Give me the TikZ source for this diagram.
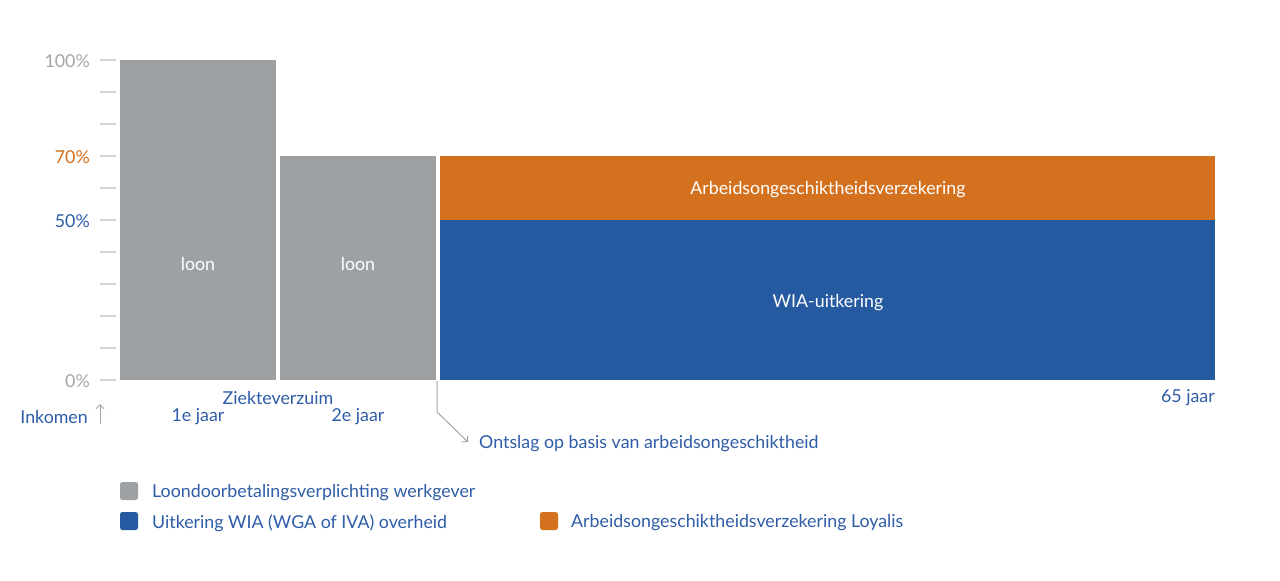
\documentclass[tikz,border=0pt]{standalone}
\usepackage{fontspec}
\setmainfont{Lato}
\usetikzlibrary{arrows.meta}
\definecolor{bargray}{HTML}{9EA1A3}
\definecolor{barblue}{HTML}{2559A0}
\definecolor{barorange}{HTML}{D4711F}
\definecolor{txtblue}{HTML}{2F5DA8}
\definecolor{axgray}{HTML}{A3A6A9}
\definecolor{tickgray}{HTML}{D3D4D5}
\tikzset{
  inbar/.style={text=white, font=\fontsize{17.8}{20}\selectfont, inner sep=0},
  lbl/.style={text=txtblue, font=\fontsize{17.8}{20}\selectfont, inner sep=0},
  axlbl/.style={font=\fontsize{17.8}{20}\selectfont, inner sep=0, anchor=east},
  tick/.style={draw=tickgray, line width=1.2pt},
  legbox/.style={minimum width=18, minimum height=18, inner sep=0, rounded corners=2.5, draw=none},
  conn/.style={draw=axgray, line width=1pt}
}
\begin{document}
\begin{tikzpicture}[x=1pt,y=-1pt]
\useasboundingbox[fill=white] (0,0) rectangle (1280,581);
% ticks
\foreach \k in {0,...,10} { \draw[tick] (100,{60+32*\k}) -- (116,{60+32*\k}); }
% axis labels
\node[axlbl, text=axgray] (l100) at (90,61) {100\%};
\node[axlbl, text=barorange] (l70) at (90,157) {70\%};
\node[axlbl, text=txtblue] (l50) at (90,221) {50\%};
\node[axlbl, text=axgray] (l0) at (90,381) {0\%};
% bars
\fill[bargray] (120,60) rectangle (276,380);
\fill[bargray] (280,156) rectangle (436,380);
\fill[barorange] (440,156) rectangle (1215,220);
\fill[barblue] (440,220) rectangle (1215,380);
\node[inbar] (loon1) at (198,264) {loon};
\node[inbar] (loon2) at (358,264) {loon};
\node[inbar] (aov) at (828,190) {Arbeidsongeschiktheidsverzekering};
\node[inbar] (wia) at (828,303) {WIA-uitkering};
% bottom labels
\node[lbl] (zv) at (278,398) {Ziekteverzuim};
\node[lbl] (j1) at (198,417) {1e jaar};
\node[lbl] (j2) at (358,417) {2e jaar};
\node[lbl, anchor=east] (ink) at (88,417) {Inkomen};
\coordinate (arrbot) at (100,424);
\coordinate (arrtop) at (100,404);
\draw[conn, -{Straight Barb[length=4pt,width=8pt]}] (arrbot) -- (arrtop);
\node[lbl, anchor=east] (j65) at (1215,398) {65 jaar};
% connector
\coordinate (cstart) at (437,381);
\coordinate (cbend) at (437,412);
\node[lbl, anchor=west] (ontslag) at (479,444) {Ontslag op basis van arbeidsongeschiktheid};
\draw[conn, -{Straight Barb[length=4pt,width=9pt]}] (cstart) -- (cbend) -- (468,442);
% legend
\node[legbox, fill=bargray] (lg1) at (129,491) {};
\node[lbl, anchor=west] (lt1) at (152,493) {Loondoorbetalingsverplichting werkgever};
\node[legbox, fill=barblue] (lg2) at (129,521) {};
\node[lbl, anchor=west] (lt2) at (152,523) {Uitkering WIA (WGA of IVA) overheid};
\node[legbox, fill=barorange] (lg3) at (549,521) {};
\node[lbl, anchor=west] (lt3) at (571,523) {Arbeidsongeschiktheidsverzekering Loyalis};
\end{tikzpicture}
\end{document}
